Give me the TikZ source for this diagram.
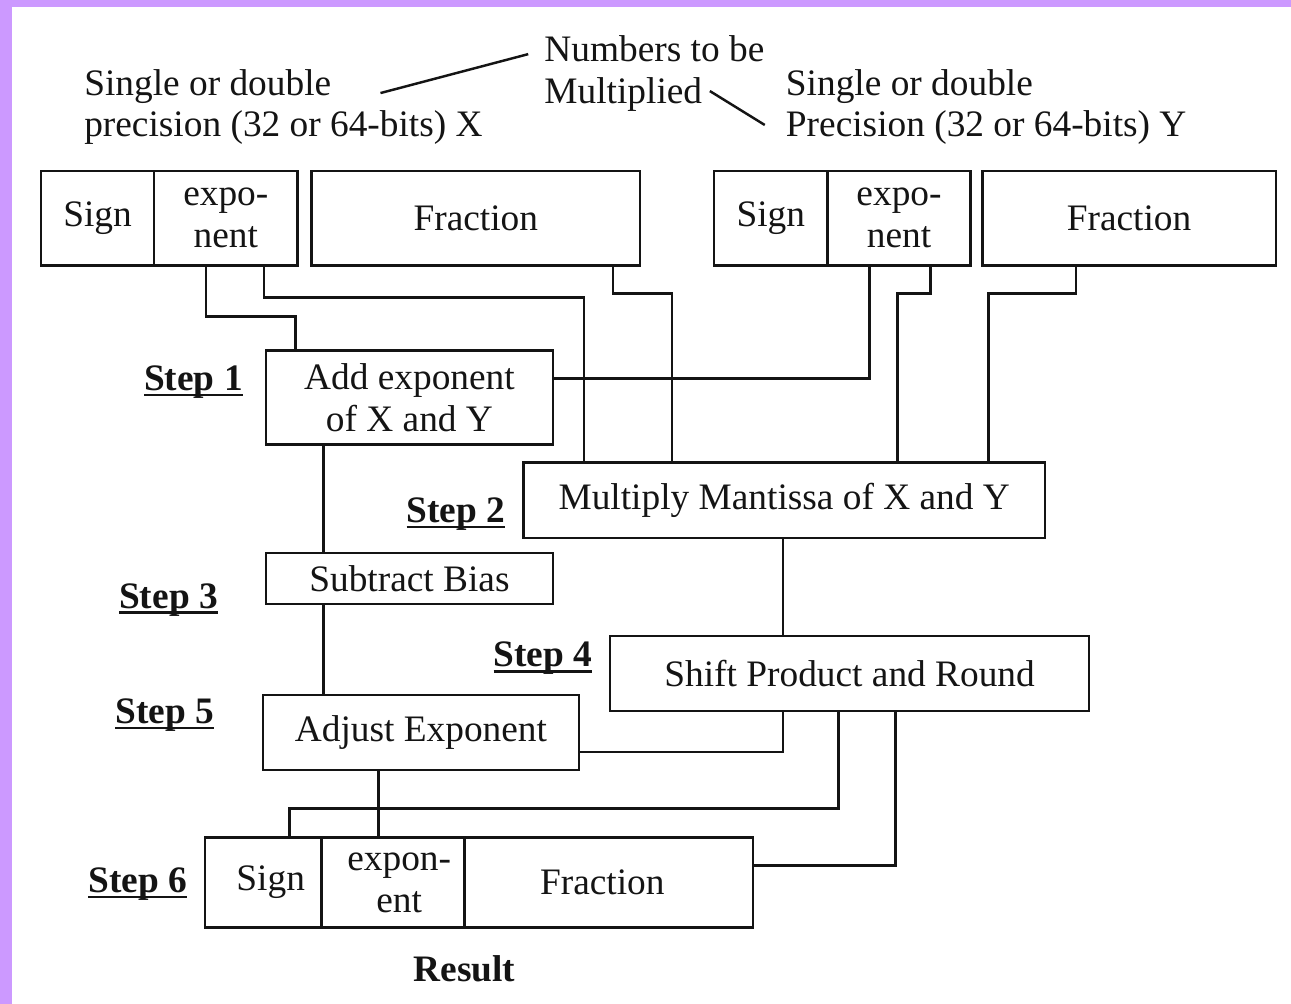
\documentclass[tikz,border=0pt]{standalone}
\usepackage{fontspec}
\setmainfont{Liberation Serif}
\definecolor{purp}{RGB}{204,153,255}
\definecolor{ink}{RGB}{20,20,20}
\newcommand\stepul[1]{\setbox0\hbox{#1}\rlap{\rule[-0.15em]{\wd0}{0.06em}}\box0}
\begin{document}
\begin{tikzpicture}[x=0.02cm,y=-0.02cm,
  font=\fontsize{21.3}{23.9}\selectfont,
  every path/.style={line width=1.4pt, draw=ink},
  box/.style={draw=ink, line width=1.4pt, inner sep=0pt, align=center, text=ink},
  lbl/.style={inner sep=0pt, text=ink},
  steplbl/.style={inner sep=0pt, text=ink, font=\fontsize{21.3}{23.9}\selectfont\bfseries, anchor=base west}]
\useasboundingbox (0,0) rectangle (1291,1003);
\fill[white] (0,0) rectangle (1291,1003);
\fill[purp] (0,0) rectangle (10,1003);
\fill[purp] (0,0) rectangle (1291,5);

% top labels
\node[lbl, anchor=base west] (lx1) at (82,94) {Single or double};
\node[lbl, anchor=base west] (lx2) at (82,136) {precision (32 or 64-bits) X};
\node[lbl, anchor=base west] (ln1) at (543,60) {Numbers to be};
\node[lbl, anchor=base west] (ln2) at (543,102) {Multiplied};
\node[lbl, anchor=base west] (ly1) at (785,94) {Single or double};
\node[lbl, anchor=base west] (ly2) at (785,136) {Precision (32 or 64-bits) Y};
\coordinate (p1a) at (380,92);
\coordinate (p1b) at (528,53);
\coordinate (p2a) at (710,90);
\coordinate (p2b) at (765,124);
\draw (p1a) -- (p1b);
\draw (p2a) -- (p2b);

% top registers
\node[box, minimum width=2.26cm, minimum height=1.9cm] (xs) at (96.5,217.5) {Sign};
\node[box, minimum width=2.88cm, minimum height=1.9cm] (xe) at (225,217.5) {expo-\\nent};
\node[box, minimum width=6.58cm, minimum height=1.9cm] (xf) at (475.5,217.5) {Fraction};
\node[box, minimum width=2.28cm, minimum height=1.9cm] (ys) at (771,217.5) {Sign};
\node[box, minimum width=2.86cm, minimum height=1.9cm] (ye) at (899.5,217.5) {expo-\\nent};
\node[box, minimum width=5.88cm, minimum height=1.9cm] (yf) at (1130,217.5) {Fraction};

% step boxes
\node[box, minimum width=5.76cm, minimum height=1.88cm] (add) at (409,397) {Add exponent\\of X and Y};
\node[box, minimum width=10.46cm, minimum height=1.52cm] (mul) at (784.5,500) {Multiply Mantissa of X and Y};
\node[box, minimum width=5.76cm, minimum height=1.02cm] (sub) at (409,578.5) {Subtract Bias};
\node[box, minimum width=9.6cm, minimum height=1.5cm] (shift) at (850,673.5) {Shift Product and Round};
\node[box, minimum width=6.34cm, minimum height=1.5cm] (adj) at (420.5,732.5) {Adjust Exponent};

% result register
\node[box, minimum width=2.34cm, minimum height=1.8cm] (rs) at (262.5,883) {\hspace*{0.3cm}Sign};
\node[box, minimum width=2.86cm, minimum height=1.8cm] (re) at (392.5,883) {\hspace*{0.25cm}expon-\\\hspace*{0.25cm}ent};
\node[box, minimum width=5.78cm, minimum height=1.8cm] (rf) at (608.5,883) {Fraction\hspace*{0.25cm}};

% step labels
\node[steplbl] (s1) at (142,390) {\stepul{Step 1}};
\node[steplbl] (s2) at (405,522) {\stepul{Step 2}};
\node[steplbl] (s3) at (117,608) {\stepul{Step 3}};
\node[steplbl] (s4) at (492,667) {\stepul{Step 4}};
\node[steplbl] (s5) at (113,724) {\stepul{Step 5}};
\node[steplbl] (s6) at (86,893) {\stepul{Step 6}};
\node[steplbl] (res) at (412,982) {Result};

% connectors
\draw (xe.south -| 205,0) -- (205,316) -| (add.north -| 295,0);
\draw (xe.south -| 263,0) -- (263,297) -| (mul.north -| 584,0);
\draw (xf.south -| 613,0) -- (613,293) -| (mul.north -| 672,0);
\draw (ye.south -| 870,0) |- (add.east |- 0,378);
\draw (ye.south -| 931,0) -- (931,293) -| (mul.north -| 898,0);
\draw (yf.south -| 1077,0) -- (1077,293) -| (mul.north -| 989,0);
\draw (add.south -| 323,0) -- (sub.north -| 323,0);
\draw (sub.south -| 323,0) -- (adj.north -| 323,0);
\draw (mul.south -| 783,0) -- (shift.north -| 783,0);
\draw (shift.south -| 783,0) |- (adj.east |- 0,752);
\draw (shift.south -| 839,0) -- (839,809) -| (rs.north -| 289,0);
\draw (shift.south -| 896,0) |- (rf.east |- 0,866);
\draw (adj.south -| 378,0) -- (re.north -| 378,0);
\end{tikzpicture}
\end{document}
